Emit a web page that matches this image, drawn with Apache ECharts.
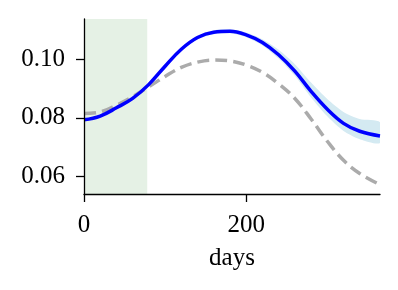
<!DOCTYPE html>
<html>
<head>
<meta charset="utf-8">
<script src="https://cdn.jsdelivr.net/npm/echarts@6/dist/echarts.min.js"></script>
<style>
html,body{margin:0;padding:0;background:#fff;}
#c{width:398px;height:290px;}
</style>
</head>
<body>
<div id="c"></div>
<script>
// ---- data ----
var days      = [0, 20, 40, 60, 80, 100, 120, 140, 160, 180, 200, 220, 240, 260, 280, 300, 320, 340, 365];
var fitted    = [0.0793, 0.0806, 0.0834, 0.0866, 0.0914, 0.0976, 0.1034, 0.1074, 0.1092, 0.1095, 0.1083, 0.1057, 0.1015, 0.0959, 0.0890, 0.0829, 0.0781, 0.0754, 0.0738];
var upperBand = [0.0796, 0.0809, 0.0838, 0.0870, 0.0919, 0.0981, 0.1040, 0.1080, 0.1099, 0.1102, 0.1091, 0.1068, 0.1032, 0.0983, 0.0920, 0.0864, 0.0820, 0.0796, 0.0785];
var lowerBand = [0.0790, 0.0803, 0.0830, 0.0862, 0.0909, 0.0971, 0.1028, 0.1068, 0.1085, 0.1088, 0.1075, 0.1047, 0.1002, 0.0943, 0.0869, 0.0805, 0.0755, 0.0727, 0.0714];
var reference = [0.0815, 0.0820, 0.0843, 0.0872, 0.0906, 0.0941, 0.0972, 0.0990, 0.0997, 0.0994, 0.0980, 0.0955, 0.0916, 0.0866, 0.0796, 0.0720, 0.0655, 0.0610, 0.0572];
var shadedDays = [0, 78];
var xTicks = [0, 200];
var yTicks = [0.06, 0.08, 0.10];

function pairs(xs, ys){ return xs.map(function(x,i){ return [x, ys[i]]; }); }

var font = 'Liberation Serif';
var chart = echarts.init(document.getElementById('c'), null, {renderer:'canvas'});
chart.setOption({
  animation:false,
  backgroundColor:'#ffffff',
  grid:{left:84, right:18, top:19, bottom:96, containLabel:false},
  xAxis:{
    type:'value', min:0, max:365, z:10,
    name:'days', nameLocation:'middle', nameGap:52,
    nameTextStyle:{fontFamily:font, fontSize:25, color:'#000'},
    axisLine:{show:true, onZero:false, lineStyle:{color:'#000', width:1.3}},
    axisTick:{show:true, length:8, customValues:xTicks, lineStyle:{color:'#000', width:1.3}},
    axisLabel:{customValues:xTicks, margin:19, fontFamily:font, fontSize:25, color:'#000'},
    splitLine:{show:false}
  },
  yAxis:{
    type:'value', min:0.054, max:0.1137, z:10,
    axisLine:{show:true, onZero:false, lineStyle:{color:'#000', width:1.3}},
    axisTick:{show:true, length:8, customValues:yTicks, lineStyle:{color:'#000', width:1.3}},
    axisLabel:{customValues:yTicks, margin:19, fontFamily:font, fontSize:25, color:'#000',
      formatter:function(v){ return v.toFixed(2); }},
    splitLine:{show:false}
  },
  series:[
    {type:'line', data:[], silent:true, z:1,
     markArea:{silent:true, itemStyle:{color:'#e5f1e5'},
       data:[[{xAxis:shadedDays[0]},{xAxis:shadedDays[1]}]]}},
    {type:'custom', silent:true, clip:true, z:2, data:[[days[0], fitted[0]]],
     renderItem:function(params, api){
       var pts = [];
       for (var i = 0; i < days.length; i++) pts.push(api.coord([days[i], upperBand[i]]));
       for (var j = days.length - 1; j >= 0; j--) pts.push(api.coord([days[j], lowerBand[j]]));
       return {type:'polygon', shape:{points:pts, smooth:0.25}, style:{fill:'#d4eaf2'}};
     }},
    {type:'line', data:pairs(days, reference), smooth:0.4, symbol:'none', z:3,
     lineStyle:{color:'#ababab', width:3.5, type:[12,6]}},
    {type:'line', data:pairs(days, fitted), smooth:0.4, symbol:'none', z:4,
     lineStyle:{color:'#0000ff', width:3.5}}
  ]
});
</script>
</body>
</html>
